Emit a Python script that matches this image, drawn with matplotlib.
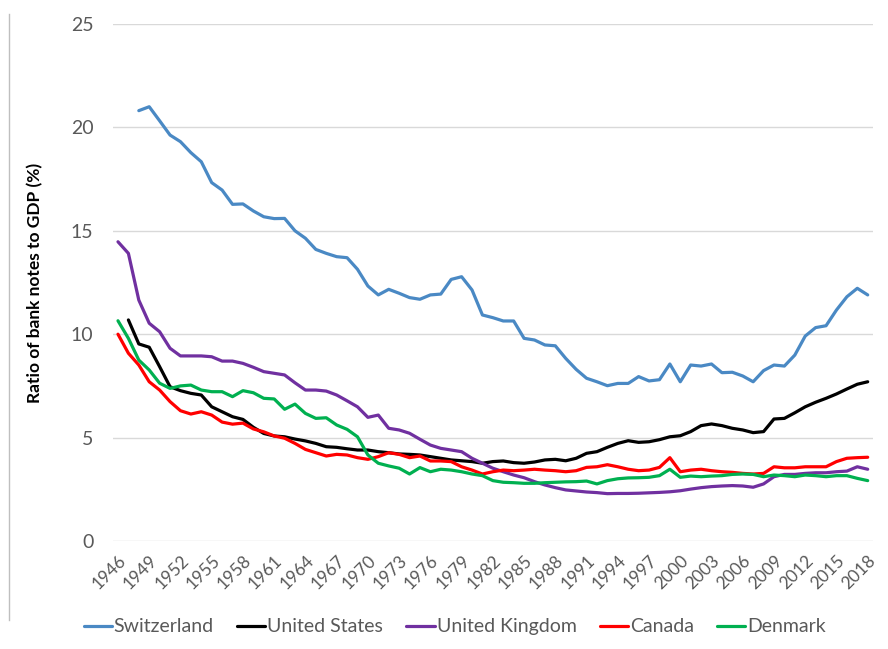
import numpy as np
import matplotlib
matplotlib.use('Agg')
import matplotlib.pyplot as plt
from matplotlib.lines import Line2D

years = list(range(1946, 2019))

# ratio of bank notes to GDP (%); None = no data
switzerland = [None, None, 20.81, 21.0, 20.32, 19.63, 19.31, 18.78, 18.34, 17.33,
               16.97, 16.28, 16.30, 15.96, 15.68, 15.59, 15.60, 15.0, 14.64, 14.10,
               13.91, 13.75, 13.70, 13.14, 12.33, 11.90, 12.17, 11.98, 11.77, 11.69,
               11.90, 11.94, 12.65, 12.78, 12.14, 10.93, 10.80, 10.64, 10.64, 9.80,
               9.72, 9.48, 9.44, 8.83, 8.30, 7.87, 7.70, 7.51, 7.62, 7.62,
               7.95, 7.74, 7.80, 8.56, 7.70, 8.51, 8.46, 8.56, 8.14, 8.16,
               7.98, 7.70, 8.24, 8.51, 8.46, 8.99, 9.91, 10.32, 10.41, 11.17,
               11.81, 12.22, 11.90]
united_states = [None, 10.69, 9.53, 9.37, 8.43, 7.46, 7.27, 7.14, 7.06, 6.49,
                 6.25, 6.01, 5.88, 5.50, 5.20, 5.08, 5.04, 4.93, 4.84, 4.72,
                 4.56, 4.53, 4.46, 4.40, 4.40, 4.32, 4.27, 4.21, 4.19, 4.16,
                 4.08, 4.00, 3.92, 3.88, 3.84, 3.76, 3.84, 3.87, 3.79, 3.76,
                 3.82, 3.92, 3.95, 3.88, 4.00, 4.24, 4.32, 4.53, 4.72, 4.85,
                 4.77, 4.80, 4.90, 5.04, 5.09, 5.29, 5.58, 5.66, 5.58, 5.45,
                 5.37, 5.24, 5.29, 5.90, 5.93, 6.20, 6.49, 6.71, 6.90, 7.11,
                 7.35, 7.58, 7.70]
united_kingdom = [14.47, 13.91, 11.65, 10.53, 10.12, 9.32, 8.95, 8.95, 8.95, 8.91,
                  8.70, 8.70, 8.59, 8.40, 8.19, 8.11, 8.03, 7.65, 7.30, 7.30,
                  7.25, 7.06, 6.78, 6.49, 5.98, 6.09, 5.45, 5.37, 5.21, 4.92,
                  4.64, 4.48, 4.40, 4.32, 4.00, 3.76, 3.52, 3.35, 3.19, 3.06,
                  2.87, 2.71, 2.58, 2.47, 2.42, 2.37, 2.34, 2.29, 2.30, 2.30,
                  2.31, 2.33, 2.35, 2.38, 2.43, 2.51, 2.58, 2.63, 2.66, 2.68,
                  2.66, 2.60, 2.76, 3.11, 3.22, 3.22, 3.27, 3.30, 3.30, 3.35,
                  3.38, 3.59, 3.47]
canada = [10.0, 9.08, 8.51, 7.70, 7.30, 6.74, 6.30, 6.14, 6.25, 6.09,
          5.75, 5.65, 5.70, 5.42, 5.28, 5.08, 4.97, 4.72, 4.43, 4.27,
          4.11, 4.19, 4.16, 4.03, 3.95, 4.08, 4.27, 4.19, 4.03, 4.11,
          3.87, 3.87, 3.84, 3.59, 3.43, 3.24, 3.35, 3.43, 3.40, 3.43,
          3.47, 3.43, 3.40, 3.35, 3.40, 3.56, 3.59, 3.69, 3.59, 3.47,
          3.40, 3.43, 3.56, 4.03, 3.35, 3.43, 3.47, 3.40, 3.35, 3.32,
          3.27, 3.24, 3.27, 3.59, 3.54, 3.54, 3.59, 3.59, 3.59, 3.84,
          4.00, 4.03, 4.05]
denmark = [10.65, 9.80, 8.75, 8.27, 7.63, 7.38, 7.50, 7.54, 7.30, 7.22,
           7.22, 6.98, 7.27, 7.17, 6.90, 6.87, 6.37, 6.62, 6.17, 5.93,
           5.96, 5.61, 5.40, 5.04, 4.16, 3.76, 3.63, 3.52, 3.24, 3.55,
           3.35, 3.47, 3.43, 3.35, 3.24, 3.16, 2.92, 2.84, 2.82, 2.79,
           2.79, 2.82, 2.84, 2.86, 2.87, 2.90, 2.76, 2.92, 3.01, 3.05,
           3.06, 3.08, 3.16, 3.47, 3.08, 3.14, 3.11, 3.14, 3.16, 3.22,
           3.24, 3.22, 3.11, 3.19, 3.16, 3.11, 3.19, 3.16, 3.11, 3.16,
           3.16, 3.03, 2.92]

series = [
    ('Switzerland', switzerland, '#4A89C4'),
    ('United States', united_states, '#000000'),
    ('United Kingdom', united_kingdom, '#7030A0'),
    ('Canada', canada, '#FF0000'),
    ('Denmark', denmark, '#00B050'),
]

plt.rcParams['font.family'] = ['Lato', 'DejaVu Sans']

fig = plt.figure(figsize=(8.88, 6.49), dpi=100)
ax = fig.add_axes([0.127, 0.1664, 0.856, 0.7966])

for name, values, color in series:
    vals = np.array([np.nan if v is None else v for v in values], dtype=float)
    ax.plot(years, vals, color=color, linewidth=2.3, label=name,
            solid_joinstyle='round', solid_capstyle='round')

ax.set_xlim(1945.5, 2018.5)
ax.set_ylim(0, 25)
ax.set_yticks(range(0, 26, 5))
ax.set_xticks(years[::3])
ax.set_xticklabels([str(y) for y in years[::3]], rotation=45,
                   ha='right', rotation_mode='anchor')
ax.tick_params(axis='x', length=0, labelsize=12.5, colors='#595959', pad=8)
ax.tick_params(axis='y', length=0, labelsize=14, colors='#595959', pad=14)
ax.grid(axis='y', color='#D9D9D9', linewidth=1)
ax.set_axisbelow(True)
for s in ax.spines.values():
    s.set_visible(False)

ax.set_ylabel('Ratio of bank notes to GDP (%)', fontsize=12.5,
              fontweight='bold', labelpad=20)

ax.legend(loc='center', bbox_to_anchor=(0.45, -0.166), ncol=5, frameon=False,
          fontsize=14, handlelength=1.45, handletextpad=0.1, columnspacing=1.2,
          labelcolor='#595959')

fig.add_artist(Line2D([0.0096, 0.0096], [0.045, 0.978], color='#BFBFBF',
                      linewidth=1, transform=fig.transFigure))

fig.savefig('out.png', dpi=100)
